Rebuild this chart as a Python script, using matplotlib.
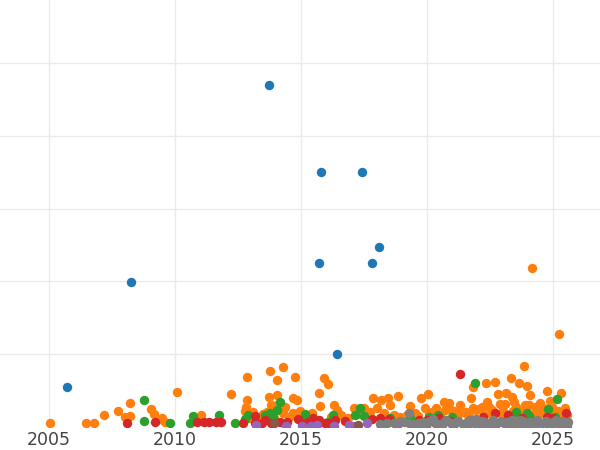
import matplotlib
matplotlib.use("Agg")
import matplotlib.pyplot as plt

# ---- data (year, value) per group ----
blue_year = [2005.71, 2008.25, 2013.73, 2015.79, 2017.42, 2018.10, 2015.71, 2017.82, 2016.43]
blue_val = [55, 199, 470, 350, 350, 247, 225, 225, 100]

orange_year = [2005.04, 2006.47, 2006.79, 2007.18, 2007.74, 2008.21, 2008.02, 2008.21, 2009.05, 2009.17,
               2009.29, 2009.48, 2009.60, 2010.08, 2011.03, 2012.22, 2012.86, 2012.86, 2012.82, 2012.78,
               2013.77, 2014.29, 2014.05, 2014.76, 2013.73, 2014.05, 2013.81, 2013.65, 2014.05, 2014.68,
               2014.84, 2014.37, 2014.68, 2014.29, 2013.33, 2015.91, 2016.07, 2015.71, 2015.75, 2016.31,
               2016.43, 2015.44, 2016.18, 2017.10, 2017.50, 2017.70, 2017.86, 2018.17, 2018.45, 2018.85,
               2017.74, 2018.02, 2018.29, 2018.69, 2018.55, 2019.33, 2019.76, 2020.04, 2019.52, 2019.92,
               2020.36, 2020.67, 2020.71, 2020.87, 2021.08, 2021.31, 2021.75, 2021.83, 2022.34, 2022.70,
               2022.38, 2022.82, 2023.13, 2023.37, 2023.33, 2023.65, 2023.97, 2023.85, 2024.17, 2025.24,
               2024.76, 2025.32, 2020.52, 2021.55, 2022.05, 2022.55, 2023.02, 2023.55, 2023.78, 2024.06,
               2024.35, 2024.50, 2024.98, 2025.12, 2025.48, 2021.20, 2021.67, 2022.18, 2022.90, 2023.45,
               2024.08, 2024.42, 2024.88, 2025.40, 2019.20, 2019.48, 2020.20, 2024.62, 2023.20, 2021.95,
               2013.50, 2013.95, 2014.15, 2014.52, 2014.95, 2015.10, 2015.30, 2016.60, 2016.85, 2017.30,
               2012.95, 2013.10, 2021.40, 2021.85, 2022.25, 2022.60, 2022.98, 2023.40, 2023.88, 2024.20,
               2024.55, 2024.70, 2025.05, 2025.55, 2020.95, 2021.60, 2022.45, 2023.10, 2023.70, 2024.30,
               2024.95, 2025.20, 2019.65, 2020.10, 2018.95]
orange_val = [5, 5, 5, 16, 22, 33, 14, 15, 25, 18,
              10, 12, 7, 48, 16, 45, 69, 37, 27, 22,
              77, 82, 65, 69, 41, 44, 30, 21, 30, 40,
              37, 27, 19, 19, 14, 67, 59, 47, 29, 30,
              23, 19, 14, 26, 26, 15, 40, 37, 40, 43,
              21, 26, 19, 16, 30, 29, 40, 45, 19, 26,
              26, 34, 23, 33, 22, 30, 40, 55, 60, 62,
              34, 45, 47, 41, 67, 60, 56, 84, 218, 128,
              49, 47, 16, 20, 25, 18, 22, 27, 20, 30,
              24, 33, 28, 20, 26, 14, 15, 28, 31, 35,
              44, 17, 36, 18, 17, 12, 20, 26, 12, 24,
              18, 13, 25, 14, 22, 12, 15, 16, 12, 18,
              12, 20, 20, 26, 17, 23, 18, 22, 30, 16,
              20, 25, 14, 16, 24, 18, 27, 32, 15, 27,
              16, 22, 15, 18, 14]

green_year = [2008.77, 2008.77, 2009.80, 2010.60, 2010.71, 2011.75, 2012.38, 2012.90, 2012.78, 2013.57,
              2013.73, 2014.17, 2014.05, 2013.77, 2013.90, 2015.16, 2016.27, 2016.07, 2017.34, 2017.14,
              2017.50, 2018.53, 2019.33, 2020.08, 2020.44, 2021.00, 2021.90, 2024.80, 2025.16, 2023.98,
              2023.54, 2023.22, 2024.06, 2025.08]
green_val = [37, 8, 5, 5, 15, 16, 5, 16, 11, 16,
             12, 34, 23, 19, 14, 18, 16, 7, 26, 16,
             15, 12, 12, 14, 16, 14, 60, 25, 38, 19,
             21, 16, 15, 14]

red_year = [2008.10, 2009.20, 2010.87, 2011.15, 2011.35, 2011.63, 2011.83, 2012.70, 2013.17, 2013.17,
            2013.45, 2013.57, 2014.17, 2014.45, 2014.88, 2015.28, 2015.48, 2015.71, 2016.34, 2016.74,
            2017.82, 2018.13, 2018.49, 2019.68, 2019.99, 2021.31, 2022.70, 2023.22, 2025.52, 2024.76,
            2020.48, 2022.22, 2023.78, 2024.96, 2020.90, 2021.70, 2013.80, 2015.05, 2015.95, 2016.10]
red_val = [5, 7, 7, 7, 7, 7, 7, 5, 15, 5,
           5, 10, 7, 7, 11, 7, 12, 10, 10, 8,
           11, 12, 11, 10, 10, 73, 19, 16, 19, 14,
           12, 14, 12, 12, 8, 9, 6, 6, 5, 6]

purple_year = [2013.20, 2014.40, 2015.05, 2015.40, 2015.62, 2016.30, 2016.90, 2017.05, 2017.62, 2018.20,
               2018.80, 2019.40, 2019.95, 2020.50, 2021.05, 2021.60, 2022.10, 2022.70, 2023.25, 2023.80,
               2024.30, 2024.85, 2025.30, 2025.55]
purple_val = [3, 2, 2, 2, 3, 2, 3, 2, 5, 2,
              2, 1, 1, 0, 1, 1, 0, 1, 1, 0,
              1, 0, 1, 0]

brown_year = [2013.93, 2017.26]
brown_val = [5, 3]

gray_year = [2018.12, 2018.40, 2018.70, 2018.95, 2019.08, 2019.29, 2019.31, 2019.47, 2019.66, 2019.83,
             2020.02, 2020.14, 2020.33, 2020.51, 2020.68, 2020.77, 2020.96, 2021.13, 2021.24, 2021.42,
             2021.58, 2021.71, 2021.88, 2022.03, 2022.17, 2022.31, 2022.49, 2022.62, 2022.79, 2022.93,
             2023.06, 2023.19, 2023.37, 2023.52, 2023.63, 2023.81, 2023.97, 2024.09, 2024.26, 2024.38,
             2024.57, 2024.71, 2024.84, 2024.99, 2025.12, 2025.26, 2025.38, 2025.50, 2025.60, 2019.75,
             2020.60, 2021.50, 2022.40, 2023.28, 2024.15, 2024.92, 2025.44, 2020.25, 2021.95, 2023.70]
gray_val = [4, 5, 6, 8, 7, 19, 5, 4, 6, 7,
            5, 8, 6, 4, 7, 9, 5, 6, 8, 4,
            7, 9, 5, 6, 8, 7, 4, 9, 6, 8,
            5, 7, 9, 6, 4, 8, 6, 7, 5, 9,
            6, 8, 4, 7, 9, 6, 8, 5, 7, 3,
            3, 3, 3, 2, 3, 3, 2, 11, 11, 10]

groups = [
    (blue_year, blue_val, "#1f77b4"),
    (orange_year, orange_val, "#ff7f0e"),
    (green_year, green_val, "#2ca02c"),
    (red_year, red_val, "#d62728"),
    (purple_year, purple_val, "#9467bd"),
    (brown_year, brown_val, "#8c564b"),
    (gray_year, gray_val, "#7f7f7f"),
]

fig = plt.figure(figsize=(6, 4.5), dpi=100)
ax = fig.add_axes([0, 23 / 450, 1, 427 / 450])

for xs, ys, c in groups:
    ax.scatter(xs, ys, s=46, color=c, linewidths=0, zorder=3)

ax.set_xlim(2003.06, 2026.87)
ax.set_ylim(0, 586.5)
ax.set_xticks([2005, 2010, 2015, 2020, 2025])
ax.set_yticks([100, 200, 300, 400, 500])
ax.set_yticklabels([])
ax.tick_params(axis="both", length=0)
ax.tick_params(axis="x", labelsize=12.5, labelcolor="#444444", pad=3)
ax.grid(True, color="#ebebeb", linewidth=1)
ax.set_axisbelow(True)
for sp in ax.spines.values():
    sp.set_visible(False)

fig.savefig("out.png", dpi=100)
